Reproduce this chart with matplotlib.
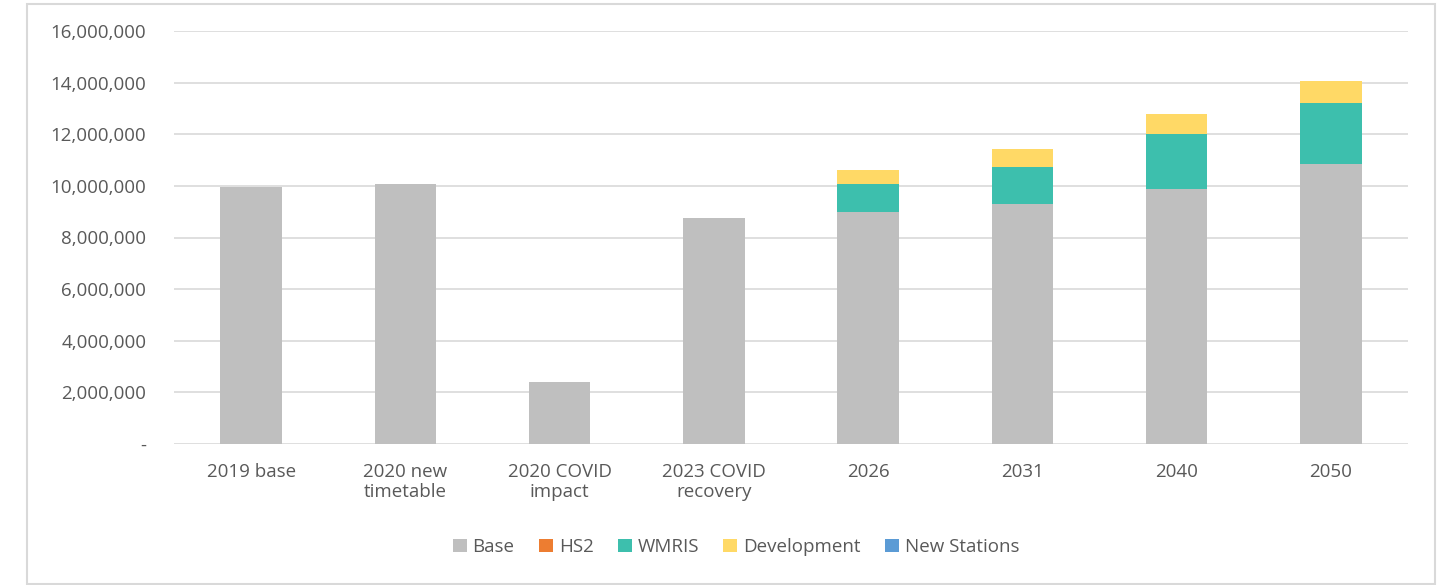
import numpy as np
import matplotlib.pyplot as plt
from matplotlib.patches import Rectangle
from matplotlib.ticker import FuncFormatter

# Data
categories = ["2019 base", "2020 new\ntimetable", "2020 COVID\nimpact", "2023 COVID\nrecovery",
              "2026", "2031", "2040", "2050"]
base = [9950000, 10070000, 2400000, 8760000, 8980000, 9290000, 9880000, 10850000]
hs2 = [0, 0, 0, 0, 0, 0, 0, 0]
wmris = [0, 0, 0, 0, 1100000, 1440000, 2120000, 2360000]
development = [0, 0, 0, 0, 520000, 690000, 800000, 850000]
new_stations = [0, 0, 0, 0, 0, 0, 0, 0]

series = [
    ("Base", base, "#bfbfbf"),
    ("HS2", hs2, "#ed7d31"),
    ("WMRIS", wmris, "#3dbfad"),
    ("Development", development, "#ffd966"),
    ("New Stations", new_stations, "#5b9bd5"),
]

plt.rcParams['font.family'] = ['Open Sans', 'DejaVu Sans']
text_color = "#595959"

fig = plt.figure(figsize=(14.49, 5.85), dpi=100)
ax = fig.add_axes([174 / 1449, 1 - 444 / 585, (1408 - 174) / 1449, (444 - 31) / 585])

x = np.arange(len(categories))
bottom = np.zeros(len(categories))
for name, vals, color in series:
    vals = np.array(vals, dtype=float)
    ax.bar(x, vals, width=0.4, bottom=bottom, color=color, label=name, zorder=3)
    bottom += vals

ax.set_xlim(-0.5, len(categories) - 0.5)
ax.set_ylim(0, 16000000)
ax.set_yticks(np.arange(0, 16000001, 2000000))
ax.yaxis.set_major_formatter(FuncFormatter(lambda v, p: "-" if v == 0 else f"{int(v):,}"))
ax.set_xticks(x)
ax.set_xticklabels(categories, linespacing=1.1)
ax.grid(axis='y', color="#d9d9d9", linewidth=1.2, zorder=0)
for s in ax.spines.values():
    s.set_visible(False)
ax.tick_params(axis='both', length=0, labelsize=13.5, colors=text_color)
ax.tick_params(axis='y', pad=20)
ax.tick_params(axis='x', pad=14)

leg = fig.legend(loc='center', bbox_to_anchor=(736 / 1449, 1 - 547 / 585), ncol=5,
                 frameon=False, fontsize=13.5, handlelength=0.75, handleheight=0.75,
                 handletextpad=0.3, columnspacing=1.3)
for t in leg.get_texts():
    t.set_color(text_color)

# outer chart border
fig.patches.append(Rectangle((27 / 1449, 1 / 585), (1435 - 27) / 1449, (581 - 1) / 585,
                             transform=fig.transFigure, fill=False,
                             edgecolor="#d9d9d9", linewidth=1.5))

fig.savefig("out.png", dpi=100)
